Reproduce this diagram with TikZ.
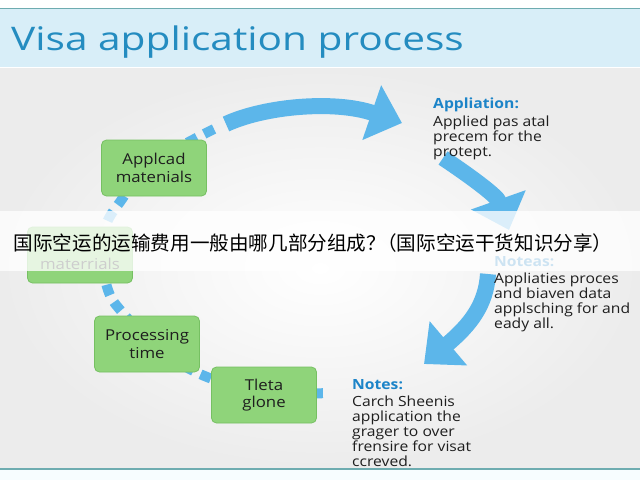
\documentclass[tikz,border=0pt]{standalone}
\usepackage{fontspec}
\setmainfont[FakeStretch=1.12]{Open Sans}
\newfontfamily\titlefont[FakeStretch=1.25]{Open Sans}
\newfontfamily\cjkfont{Noto Sans CJK SC}
\usetikzlibrary{arrows.meta}

\definecolor{bandblue}{RGB}{216,238,248}
\definecolor{titleblue}{RGB}{36,140,192}
\definecolor{rulecol}{RGB}{110,172,176}
\definecolor{bggray}{RGB}{236,236,236}
\definecolor{boxgreen}{RGB}{143,212,122}
\definecolor{boxedge}{RGB}{118,192,98}
\definecolor{flowblue}{RGB}{92,182,234}
\definecolor{noteblue}{RGB}{28,132,200}
\definecolor{inkgray}{RGB}{30,30,30}

\begin{document}
\begin{tikzpicture}[x=1pt,y=-1pt,
	stepbox/.style={draw=boxedge, fill=boxgreen, rounded corners=5pt, line width=0.8pt, minimum width=105pt, minimum height=56pt, align=center, text=inkgray, font=\fontsize{15}{17.5}\selectfont},
	note/.style={anchor=north west, inner sep=0pt, align=left, text=inkgray, font=\fontsize{14}{15}\selectfont},
	flow/.style={flowblue, line width=16pt, -{Triangle[length=32pt,width=56pt]}},
	trail/.style={flowblue, line width=10pt, dash pattern=on 11pt off 8pt}]

		% background
		\useasboundingbox (0,0) rectangle (640,480);
		\fill[white] (0,0) rectangle (640,480);
		\shade[inner color=white, outer color=bggray] (0,68) rectangle (640,468);
		\fill[bandblue] (0,9) rectangle (640,67);
		\draw[rulecol, line width=1pt] (0,8.5) -- (640,8.5);
		\draw[rulecol, line width=2pt] (0,469) -- (640,469);
		\fill[cyan!3] (0,470) rectangle (640,480);

		\node[anchor=base west, inner sep=0pt, text=titleblue, font=\titlefont\fontsize{32.5}{36}\selectfont] (title) at (11,50) {Visa application process};

		% cycle arrows
		\coordinate (a1s) at (226,124);
		\coordinate (a1e) at (402,123);
		\coordinate (a2s) at (443,158);
		\coordinate (a2e) at (509,230);
		\coordinate (a3s) at (488,274);
		\coordinate (a3e) at (424,364);
		\coordinate (tstart) at (214,129);
		\coordinate (tend) at (330,393);

		\draw[flow] (a1s) .. controls (265,106) and (335,100) .. (a1e);
		\draw[flow] (a2s) .. controls (470,176) and (497,196) .. (a2e);
		\draw[flow] (a3s) .. controls (486,305) and (470,325) .. (a3e);

		\draw[trail] plot[smooth, tension=0.6] coordinates {(tstart) (150,165) (120,202) (106,225) (102,255) (108,290) (122,312) (160,350) (207,377) (265,392) (tend)};

		% steps
		\node[stepbox] (b1) at (154,168) {Applcad\\matenials};
		\node[stepbox] (b2) at (80,255) {\strut\\materrials};
		\node[stepbox] (b3) at (147,344) {Processing\\time};
		\node[stepbox] (b4) at (264,395) {Tleta\\glone};

		% notes
		\node[note] (n1) at (433,98) {\textcolor{noteblue}{\bfseries Appliation:}\\[3pt]Applied pas atal\\precem for the\\protept.};
		\node[note] (n2) at (494,256) {\textcolor{noteblue}{\bfseries Noteas:}\\[2pt]Appliaties proces\\and biaven data\\applsching for and\\eady all.};
		\node[note] (n3) at (352,379) {\textcolor{noteblue}{\bfseries Notes:}\\[2pt]Carch Sheenis\\application the\\grager to over\\frensire for visat\\ccreved.};

		% caption band
		\fill[white, opacity=0.78] (0,211) rectangle (640,271);
		\node[inner sep=0pt, text=black, font=\cjkfont\fontsize{19.6}{22}\selectfont] (caption) at (313,243) {国际空运的运输费用一般由哪几部分组成？\kern-0.45em（国际空运干货知识分享）};
	\end{tikzpicture}
\end{document}
